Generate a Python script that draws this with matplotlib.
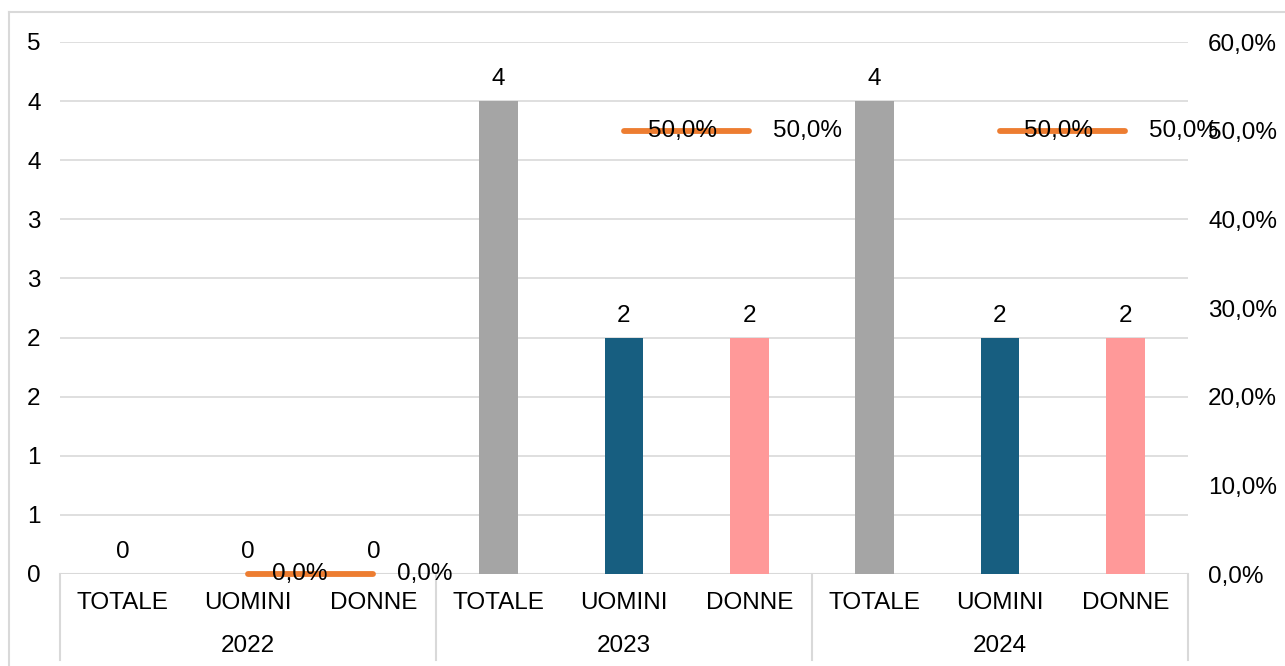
import matplotlib
matplotlib.use("Agg")
import matplotlib.pyplot as plt
from matplotlib.lines import Line2D
import numpy as np

plt.rcParams['font.family'] = ['Liberation Sans', 'DejaVu Sans']

years = ['2022', '2023', '2024']
groups = ['TOTALE', 'UOMINI', 'DONNE']
totale = [0, 4, 4]
uomini = [0, 2, 2]
donne = [0, 2, 2]
pct_uomini = [0.0, 0.5, 0.5]
pct_donne = [0.0, 0.5, 0.5]
left_ticks = [0, 0.5, 1, 1.5, 2, 2.5, 3, 3.5, 4, 4.5]
left_labels = ['0', '1', '1', '2', '2', '3', '3', '4', '4', '5']
right_ticks = [0, 0.1, 0.2, 0.3, 0.4, 0.5, 0.6]
right_labels = ['0,0%', '10,0%', '20,0%', '30,0%', '40,0%', '50,0%', '60,0%']

colors = {'TOTALE': '#A5A5A5', 'UOMINI': '#175E80', 'DONNE': '#FF9999'}
line_color = '#ED7D31'
grid_color = '#D9D9D9'
FS = 17.5

W, H = 1285, 666
fig = plt.figure(figsize=(W / 100, H / 100), dpi=100)
ax = fig.add_axes([60 / W, 1 - 574 / H, (1188 - 60) / W, (574 - 42) / H])
ax2 = ax.twinx()

series = {'TOTALE': totale, 'UOMINI': uomini, 'DONNE': donne}
bw = 0.31
for yi, yr in enumerate(years):
    for gi, g in enumerate(groups):
        x = yi * 3 + gi
        v = series[g][yi]
        ax.bar(x, v, width=bw, color=colors[g], zorder=3)
        ax.annotate(str(v), (x, v), xytext=(0, 16), textcoords='offset pixels',
                    ha='center', va='baseline', fontsize=FS, zorder=5)

for yi in range(len(years)):
    xs = [yi * 3 + 1, yi * 3 + 2]
    vals = [pct_uomini[yi], pct_donne[yi]]
    ax2.plot(xs, vals, color=line_color, lw=4.2, solid_capstyle='round', zorder=4, clip_on=False)
    for x, v in zip(xs, vals):
        lab = f"{v * 100:.1f}%".replace('.', ',')
        ax2.annotate(lab, (x, v), xytext=(24, 0), textcoords='offset pixels',
                     ha='left', va='center', fontsize=FS, zorder=6)

ax.set_xlim(-0.5, 8.5)
ax.set_ylim(0, 4.5)
ax2.set_ylim(0, 0.6)
ax.set_yticks(left_ticks)
ax.set_yticklabels(left_labels, fontsize=FS)
ax2.set_yticks(right_ticks)
ax2.set_yticklabels(right_labels, fontsize=FS)
ax.tick_params(axis='y', length=0, pad=14)
ax2.tick_params(axis='y', length=0, pad=14.5)
ax.set_xticks([])
ax.yaxis.grid(True, color=grid_color, lw=1.2, zorder=0)
ax.set_axisbelow(True)
for a in (ax, ax2):
    for s in a.spines.values():
        s.set_visible(False)
ax.axhline(0, color=grid_color, lw=1.5, zorder=2)

# category labels
trans = ax.get_xaxis_transform()
for yi, yr in enumerate(years):
    for gi, g in enumerate(groups):
        ax.text(yi * 3 + gi, -29 / 532, g, transform=trans, ha='center', va='center', fontsize=FS)
    ax.text(yi * 3 + 1, -72 / 532, yr, transform=trans, ha='center', va='center', fontsize=FS)
for b in [-0.5, 2.5, 5.5, 8.5]:
    ax.add_line(Line2D([b, b], [0, -86 / 532], transform=trans, color=grid_color, lw=1.5, clip_on=False))

# chart border
fig.add_artist(Line2D([9 / W, 1], [1 - 12 / H, 1 - 12 / H], color=grid_color, lw=1.5))
fig.add_artist(Line2D([9 / W, 9 / W], [0, 1 - 12 / H], color=grid_color, lw=1.5))

fig.savefig('out.png', dpi=100, facecolor='white')
